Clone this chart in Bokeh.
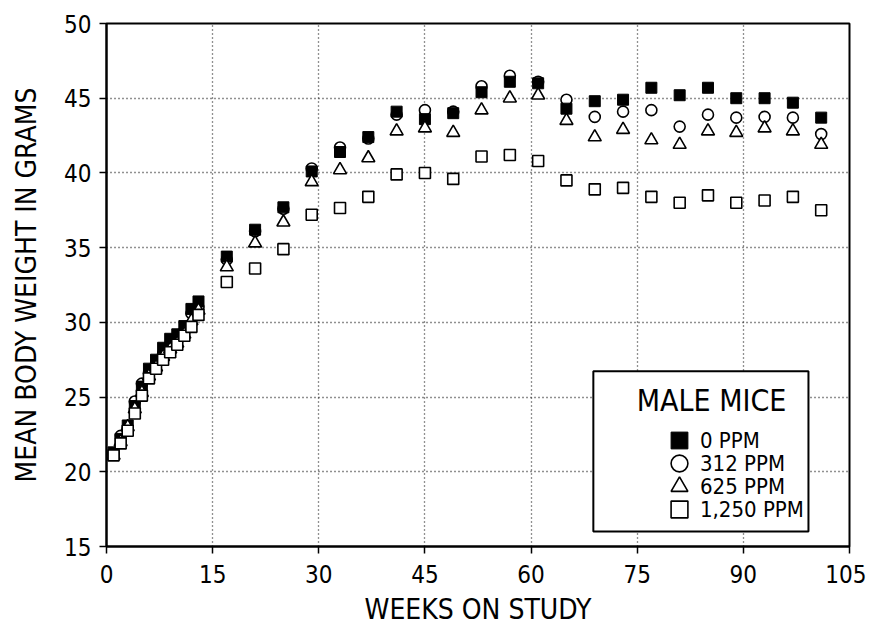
from bokeh.plotting import figure
from bokeh.models import (FixedTicker, Legend, LegendItem, BoxAnnotation, Label,
                          ColumnDataSource)
from bokeh.embed import file_html
from bokeh.resources import INLINE

FONT = "DejaVu Sans Condensed"

weeks = [1, 2, 3, 4, 5, 6, 7, 8, 9, 10, 11, 12, 13,
         17, 21, 25, 29, 33, 37, 41, 45, 49, 53, 57, 61,
         65, 69, 73, 77, 81, 85, 89, 93, 97, 101]

ppm0 = [21.3, 22.2, 23.1, 24.4, 25.7, 26.9, 27.5, 28.3, 28.9, 29.2, 29.75, 30.9, 31.4,
        34.4, 36.2, 37.7, 40.1, 41.4, 42.4, 44.1, 43.6, 44.0, 45.4, 46.1, 46.0,
        44.3, 44.8, 44.9, 45.7, 45.2, 45.7, 45.0, 45.0, 44.7, 43.7]

ppm312 = [21.2, 22.4, 22.9, 24.7, 25.9, 26.6, 27.2, 27.9, 28.5, 28.8, 29.4, 30.6, 31.0,
          34.2, 36.1, 37.6, 40.3, 41.7, 42.3, 43.9, 44.2, 44.1, 45.8, 46.5, 46.1,
          44.9, 43.75, 44.1, 44.2, 43.1, 43.9, 43.7, 43.75, 43.7, 42.6]

ppm625 = [21.1, 22.0, 23.0, 24.2, 25.3, 26.4, 27.0, 27.7, 28.2, 28.6, 29.2, 30.1, 30.8,
          33.7, 35.3, 36.7, 39.4, 40.2, 41.0, 42.8, 43.0, 42.7, 44.2, 45.0, 45.2,
          43.5, 42.4, 42.9, 42.2, 41.9, 42.8, 42.7, 43.0, 42.8, 41.9]

ppm1250 = [21.1, 21.9, 22.75, 23.9, 25.1, 26.25, 26.9, 27.5, 28.0, 28.5, 29.1, 29.7, 30.5,
           32.7, 33.6, 34.9, 37.2, 37.65, 38.4, 39.9, 40.0, 39.6, 41.1, 41.2, 40.8,
           39.5, 38.9, 39.0, 38.4, 38.0, 38.5, 38.0, 38.15, 38.4, 37.5]

x_ticks = [0, 15, 30, 45, 60, 75, 90, 105]
y_ticks = [15, 20, 25, 30, 35, 40, 45, 50]

x_title = "WEEKS ON STUDY"
y_title = "MEAN BODY WEIGHT IN GRAMS"
legend_title = "MALE MICE"
labels = ["0 PPM", "312 PPM", "625 PPM", "1,250 PPM"]

p = figure(width=866, height=628, x_range=(0, 105), y_range=(15, 50),
           output_backend="svg", toolbar_location=None,
           min_border_left=106, min_border_right=17, min_border_top=23, min_border_bottom=80)

p.background_fill_color = "white"
p.border_fill_color = "white"
p.outline_line_color = "black"
p.outline_line_width = 2

for ax in (p.xaxis[0], p.yaxis[0]):
    ax.axis_line_width = 2
    ax.axis_line_color = "black"
    ax.major_tick_line_width = 1.5
    ax.major_tick_out = 7
    ax.major_tick_in = 0
    ax.minor_tick_line_color = None
    ax.major_label_text_font = FONT
    ax.major_label_text_font_size = "24px"
    ax.major_label_text_color = "black"
    ax.axis_label_text_font = FONT
    ax.axis_label_text_font_size = "28px"
    ax.axis_label_text_font_style = "normal"
    ax.axis_label_text_color = "black"

p.xaxis.ticker = FixedTicker(ticks=x_ticks)
p.yaxis.ticker = FixedTicker(ticks=y_ticks)
p.xaxis.axis_label = x_title
p.yaxis.axis_label = y_title
p.xaxis.major_label_standoff = 11
p.yaxis.major_label_standoff = 8
p.xaxis.axis_label_standoff = 7
p.yaxis.axis_label_standoff = 18

for g in (p.xgrid[0], p.ygrid[0]):
    g.grid_line_color = "#222222"
    g.grid_line_dash = "1 3"
    g.grid_line_width = 1.3

src = ColumnDataSource(dict(w=weeks, a=ppm0, b=ppm312, c=ppm625, d=ppm1250))

r_b = p.scatter("w", "b", source=src, marker="circle", size=11, fill_color="white",
                line_color="black", line_width=1.6)
r_a = p.scatter("w", "a", source=src, marker="square", size=11, fill_color="black",
                line_color="black", line_width=1)
r_c = p.scatter("w", "c", source=src, marker="triangle", size=13, fill_color="white",
                line_color="black", line_width=1.6)
r_d = p.scatter("w", "d", source=src, marker="square", size=11, fill_color="white",
                line_color="black", line_width=1.6)

# legend box and title
box = BoxAnnotation(left=68.8, right=99.2, bottom=16.0, top=26.73,
                    fill_color="white", fill_alpha=1, line_color="black",
                    line_alpha=1, line_width=2)
p.add_layout(box)
p.add_layout(Label(x=85.5, y=24.8, text=legend_title, text_align="center",
                   text_baseline="middle", text_font=FONT, text_font_size="30px",
                   text_color="black"))

nan = float("nan")
sample = ColumnDataSource(dict(x=[nan], y=[nan]))
l_a = p.scatter("x", "y", source=sample, marker="square", size=16, fill_color="black",
                line_color="black")
l_b = p.scatter("x", "y", source=sample, marker="circle", size=16, fill_color="white",
                line_color="black", line_width=1.6)
l_c = p.scatter("x", "y", source=sample, marker="triangle", size=19, fill_color="white",
                line_color="black", line_width=1.6)
l_d = p.scatter("x", "y", source=sample, marker="square", size=17, fill_color="white",
                line_color="black", line_width=1.6)

# one single-item legend per row, so that the glyphs can be large while rows stay tight
row_offsets = [85, 62, 39, 16]
for lab, rend, off in zip(labels, [l_a, l_b, l_c, l_d], row_offsets):
    lg = Legend(items=[LegendItem(label=lab, renderers=[rend])],
                location=(552, off), padding=0, margin=0, spacing=0,
                glyph_height=42, glyph_width=42, label_height=42, label_standoff=-4,
                border_line_alpha=0, background_fill_alpha=0,
                label_text_font=FONT, label_text_font_size="22px",
                label_text_color="black")
    p.add_layout(lg)

open("out.html", "w").write(file_html(p, INLINE))
